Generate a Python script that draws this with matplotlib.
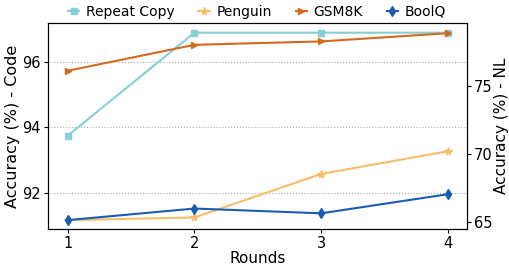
import matplotlib
matplotlib.use("Agg")
import matplotlib.pyplot as plt

rounds = [1, 2, 3, 4]

# left axis (Code)
repeat_copy = [93.75, 96.875, 96.875, 96.875]
penguin = [91.19, 91.27, 92.59, 93.28]

# right axis (NL)
gsm8k = [76.1, 78.0, 78.25, 78.85]
boolq = [65.15, 66.0, 65.65, 67.05]

c_repeat = "#86cfd6"
c_penguin = "#f5bf6a"
c_gsm = "#d2691e"
c_boolq = "#1a5cb5"

fig, ax = plt.subplots(figsize=(5.09, 2.66), dpi=100)
fig.subplots_adjust(left=48/509, right=467/509, top=1-23/266, bottom=1-229/266)
ax2 = ax.twinx()

l1, = ax.plot(rounds, repeat_copy, marker="s", ms=5, lw=1.5, color=c_repeat, label="Repeat Copy")
l2, = ax.plot(rounds, penguin, marker="*", ms=6, lw=1.5, color=c_penguin, label="Penguin")
l3, = ax2.plot(rounds, gsm8k, marker=">", ms=5, lw=1.5, color=c_gsm, label="GSM8K")
l4, = ax2.plot(rounds, boolq, marker="d", ms=5, lw=1.5, color=c_boolq, label="BoolQ")

ax.set_xlim(0.845, 4.15)
ax.set_ylim(90.92, 97.17)
ax2.set_ylim(64.5, 79.6)
ax.set_xticks(rounds)
ax.set_yticks([92, 94, 96])
ax2.set_yticks([65, 70, 75])
ax.yaxis.grid(True, linestyle=":", color="#aaaaaa", lw=0.8)

for a in (ax, ax2):
    a.tick_params(labelsize=10.5, length=3, pad=2)
ax.set_xlabel("Rounds", fontsize=11, labelpad=0)
ax.set_ylabel("Accuracy (%) - Code", fontsize=11.5, labelpad=2)
ax2.set_ylabel("Accuracy (%) - NL", fontsize=11, labelpad=1)

fig.legend(handles=[l1, l2, l3, l4], loc="upper center", bbox_to_anchor=(0.505, 1.03),
           ncol=4, frameon=False, fontsize=10, handlelength=0.8, columnspacing=1.7,
           handletextpad=0.5)

fig.savefig("out.png", dpi=100)
